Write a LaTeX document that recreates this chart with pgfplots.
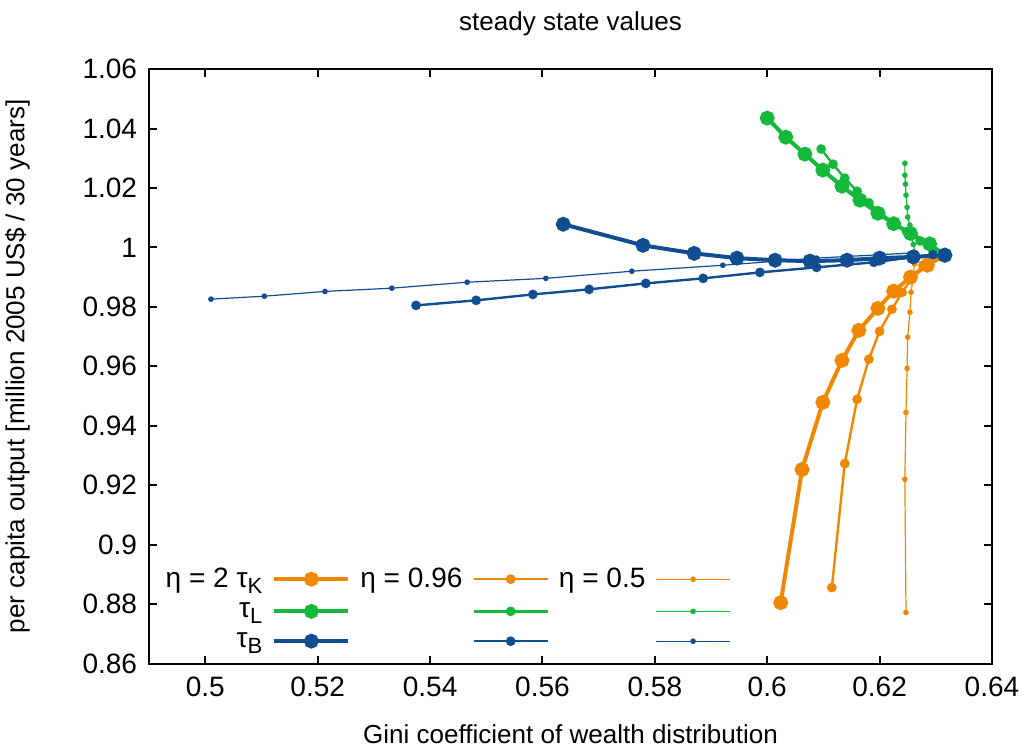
\documentclass[border=0pt]{standalone}
\usepackage{fontspec}
\setmainfont{Liberation Sans}
\usepackage{pgfplots}
\pgfplotsset{compat=1.18}

\definecolor{cK}{RGB}{240,135,0}
\definecolor{cL}{RGB}{20,185,60}
\definecolor{cB}{RGB}{16,78,145}

\newcommand{\fs}{\fontsize{13}{15}\selectfont}
\newcommand{\ft}{\fontsize{14}{16}\selectfont}
\newcommand{\sub}[1]{\raisebox{-0.4ex}{\fontsize{11}{12}\selectfont #1}}

\pgfplotsset{
  etabig/.style={line width=2pt, mark=*, mark size=2.7pt, mark options={draw=white, line width=0.5pt}},
  etamid/.style={line width=1.2pt, mark=*, mark size=1.8pt, mark options={draw=white, line width=0.4pt}},
  etalow/.style={line width=0.6pt, mark=*, mark size=1.1pt, mark options={draw=white, line width=0.3pt}},
}

\begin{document}
\begin{tikzpicture}
\begin{axis}[
    scale only axis,
    width=421pt, height=297pt,
    xmin=0.49, xmax=0.64,
    ymin=0.86, ymax=1.06,
    xtick={0.5,0.52,0.54,0.56,0.58,0.6,0.62,0.64},
    ytick={0.86,0.88,0.9,0.92,0.94,0.96,0.98,1,1.02,1.04,1.06},
    tick align=inside,
    major tick length=4pt,
    axis line style={line width=1pt},
    every tick/.style={black, line width=1pt},
    /pgf/number format/assume math mode=true,
    /pgf/number format/fixed,
    tick label style={font=\ft},
    xticklabel style={yshift=-3pt},
    yticklabel style={xshift=-2.5pt},
    label style={font=\fs},
    title style={font=\fs, yshift=7pt},
    title={steady state values},
    xlabel={Gini coefficient of wealth distribution},
    ylabel={per capita output [million 2005 US\$ / 30 years]},
    xlabel style={yshift=-7pt},
    ylabel style={yshift=19.5pt},
    legend columns=3,
    legend plot pos=right,
    legend cell align=right,
    legend style={draw=none, fill=none, font=\ft, at={(0.012,0.012)}, anchor=south west,
        row sep=2pt, column sep=3pt, inner sep=1pt},
    legend image code/.code={\draw[mark repeat=2, mark phase=2] plot coordinates {(0cm,0cm) (0.65cm,0cm) (1.3cm,0cm)};},
]
\coordinate (bl) at (rel axis cs:0,0);
\coordinate (tr) at (rel axis cs:1,1);

% tau_K
\addplot[cK, etabig, mark options={fill=cK}] coordinates {
 (0.6024,0.8805) (0.6062,0.9253) (0.6099,0.9479) (0.6133,0.9620) (0.6163,0.9721)
 (0.6197,0.9795) (0.6225,0.9853) (0.6255,0.9900) (0.6285,0.9940) (0.6316,0.9974)
};
\addlegendentry{{η = 2 τ\sub{K}}}
\addplot[cK, etamid, mark options={fill=cK}] coordinates {
 (0.6115,0.8856) (0.6138,0.9273) (0.6160,0.9489) (0.6181,0.9624) (0.6200,0.9718)
 (0.6222,0.9792) (0.6240,0.9849) (0.6258,0.9898) (0.6277,0.9940) (0.6295,0.9976)
};
\addlegendentry{{η = 0.96}}
\addplot[cK, etalow, mark options={fill=cK}] coordinates {
 (0.6247,0.8772) (0.6245,0.9220) (0.6247,0.9445) (0.6249,0.9593) (0.6250,0.9698)
 (0.6254,0.9782) (0.6256,0.9849) (0.6260,0.9903) (0.6262,0.9945) (0.6263,0.9982)
};
\addlegendentry{{η = 0.5}}
% tau_L
\addplot[cL, etabig, mark options={fill=cL}] coordinates {
 (0.6000,1.0435) (0.6033,1.0371) (0.6067,1.0314) (0.6099,1.0260) (0.6133,1.0206)
 (0.6165,1.0159) (0.6197,1.0115) (0.6225,1.0080) (0.6255,1.0047) (0.6289,1.0012) (0.6316,0.9974)
};
\addlegendentry{{τ\sub{L}}}
\addplot[cL, etamid, mark options={fill=cL}] coordinates {
 (0.6096,1.0331) (0.6117,1.0280) (0.6138,1.0233) (0.6160,1.0189) (0.6181,1.0150)
 (0.6202,1.0115) (0.6225,1.0083) (0.6248,1.0053) (0.6272,1.0022) (0.6295,0.9976)
};
\addlegendentry{{\phantom{x}}}
\addplot[cL, etalow, mark options={fill=cL}] coordinates {
 (0.6245,1.0283) (0.6245,1.0243) (0.6246,1.0213) (0.6247,1.0176) (0.6249,1.0135)
 (0.6250,1.0102) (0.6254,1.0075) (0.6257,1.0045) (0.6260,1.0010) (0.6263,0.9982)
};
\addlegendentry{{\phantom{x}}}
% tau_B
\addplot[cB, etabig, mark options={fill=cB}] coordinates {
 (0.5637,1.0078) (0.5779,1.0007) (0.5870,0.9980) (0.5946,0.9964) (0.6014,0.9957)
 (0.6076,0.9954) (0.6142,0.9957) (0.6200,0.9964) (0.6260,0.9968) (0.6316,0.9974)
};
\addlegendentry{{τ\sub{B}}}
\addplot[cB, etamid, mark options={fill=cB}] coordinates {
 (0.5375,0.9805) (0.5482,0.9822) (0.5583,0.9842) (0.5683,0.9859) (0.5784,0.9879)
 (0.5886,0.9896) (0.5987,0.9916) (0.6088,0.9933) (0.6190,0.9950) (0.6295,0.9976)
};
\addlegendentry{{\phantom{x}}}
\addplot[cB, etalow, mark options={fill=cB}] coordinates {
 (0.5010,0.9826) (0.5105,0.9836) (0.5213,0.9852) (0.5332,0.9863) (0.5466,0.9883)
 (0.5606,0.9896) (0.5759,0.9920) (0.5921,0.9940) (0.6088,0.9964) (0.6263,0.9982)
};
\addlegendentry{{\phantom{x}}}
\end{axis}
\pgfresetboundingbox
\path ([xshift=-74.5pt,yshift=-44.5pt]bl) rectangle ([xshift=16.5pt,yshift=34.5pt]tr);
\end{tikzpicture}
\end{document}
